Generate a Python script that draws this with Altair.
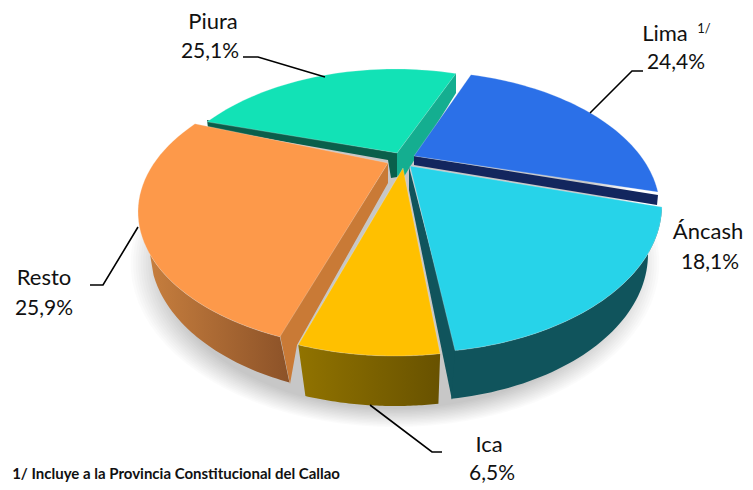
import math
import altair as alt
import pandas as pd

# Labels: name, share text, positions in picture coordinates
label_names = ["Piura", "Lima", "Áncash", "Resto", "Ica"]
label_shares = ["25,1%", "24,4%", "18,1%", "25,9%", "6,5%"]
name_x = [213, 665, 708, 44, 489]
name_y = [22, 34, 232, 278, 445]
share_x = [210, 676, 710, 44, 492]
share_y = [52, 63, 263, 309, 474]

# Slices: apex, ellipse centre, radii, start and end angle
top_fill = ["#12e2b6", "#2b70e8", "#27d3e9", "#fd994a", "#ffc000"]
apex = [(397, 153), (414, 156), (410, 166), (388, 163), (403, 168)]
centre = [(395, 209), (415, 210), (410, 205), (385, 212), (395, 207)]
radii = [(240, 140), (245, 139), (252, 148), (247, 138), (255, 149)]
sweep = [(308.5, 374.7), (13.2, 82.6), (90.8, 169.7), (205.2, 309.7), (169.8, 202.3)]

leaders = [
    [(243, 57), (258, 57), (325, 77)],
    [(590, 113), (632, 71), (643, 71)],
    [(138, 227), (103, 285), (90, 285)],
    [(370, 405), (432, 452), (442, 452)],
]


def rim(c, r, a0, a1, n=48):
    out = []
    for i in range(n + 1):
        t = math.radians(a0 + (a1 - a0) * i / n)
        out.append((c[0] + r[0] * math.sin(t), c[1] - r[1] * math.cos(t)))
    return out


def frame(points):
    pts = list(points) + [points[0]]
    return pd.DataFrame({"x": [p[0] for p in pts], "y": [p[1] for p in pts], "i": range(len(pts))})


X = alt.X("x:Q", scale=alt.Scale(domain=[8, 745], nice=False, zero=False), axis=None)
Y = alt.Y("y:Q", scale=alt.Scale(domain=[482, 8], nice=False, zero=False), axis=None)


def poly(points, fill, stroke=None, opacity=None):
    kw = {"fill": fill, "strokeWidth": 0}
    if stroke:
        kw.update(stroke=stroke, strokeWidth=0.7, strokeOpacity=0.35)
    else:
        kw.update(stroke=fill if isinstance(fill, str) else "#888888")
    if opacity is not None:
        kw.update(opacity=opacity, strokeWidth=0)
    return alt.Chart(frame(points)).mark_line(**kw).encode(x=X, y=Y, order="i:Q")


def grad(left, right):
    return alt.Gradient(gradient="linear", x1=0, x2=1, y1=0, y2=0,
                        stops=[alt.GradientStop(color=left, offset=0),
                               alt.GradientStop(color=right, offset=1)])


layers = []

# soft shadow
for k in range(14):
    layers.append(poly(rim((395, 263), (232 + 2.5 * k, 146 + 1.4 * k), 0, 360, 90), "#000000", opacity=0.016))

# Piura cut walls
layers.append(poly([(207, 120), (397, 153), (397, 177), (391, 178), (388, 160), (208, 128)], "#0a5f4b"))
layers.append(poly([(397, 153), (456, 73), (456, 93), (400, 183), (397, 175)], "#14ae90"))
# Lima wall
layers.append(poly([(414, 156), (658, 195), (657, 205), (414, 165)], "#13265e"))
# Resto walls
resto_outer = rim(centre[3], radii[3], 205.2, 252) + rim((385, 250), (235, 145), 260, 204)
layers.append(poly(resto_outer, grad("#c67e3e", "#8c5228")))
layers.append(poly([(388, 163), (280, 335), (290, 384), (297, 345), (388, 183)], "#c97a36"))
# Ancash walls
layers.append(poly([(409, 167), (457, 351), (452, 400), (409, 190)], "#10545c"))
anc_outer = rim(centre[2], radii[2], 90.8, 169.7) + rim((410, 254), (238, 147), 170, 90)
layers.append(poly(anc_outer, "#10545c"))
# Ica wall
ica_outer = rim(centre[4], radii[4], 169.8, 202.3) + rim((395, 256), (250, 150), 201, 170)
layers.append(poly(ica_outer, grad("#917300", "#685200")))

# top faces
for a, c, r, s, f in zip(apex, centre, radii, sweep, top_fill):
    layers.append(poly([a] + rim(c, r, s[0], s[1]), f, stroke="#f4f4f4"))

# leader lines
for seg in leaders:
    df = pd.DataFrame({"x": [p[0] for p in seg], "y": [p[1] for p in seg], "i": range(len(seg))})
    layers.append(alt.Chart(df).mark_line(color="black", strokeWidth=1.6).encode(x=X, y=Y, order="i:Q"))

# labels
name_df = pd.DataFrame({"x": name_x, "y": name_y, "t": label_names})
layers.append(alt.Chart(name_df).mark_text(font="Lato", fontSize=22, color="#111111", baseline="middle", align="center")
              .encode(x=X, y=Y, text="t:N"))
share_df = pd.DataFrame({"x": share_x, "y": share_y, "t": label_shares})
layers.append(alt.Chart(share_df).mark_text(font="Lato", fontSize=21, color="#111111", baseline="middle", align="center")
              .encode(x=X, y=Y, text="t:N"))
sup_df = pd.DataFrame({"x": [704], "y": [29], "t": ["1/"]})
layers.append(alt.Chart(sup_df).mark_text(font="Lato", fontSize=13, color="#111111", baseline="middle", align="center")
              .encode(x=X, y=Y, text="t:N"))
foot_df = pd.DataFrame({"x": [340], "y": [474], "t": ["1/ Incluye a la Provincia Constitucional del Callao"]})
layers.append(alt.Chart(foot_df).mark_text(font="Lato", fontSize=15, fontWeight="bold", color="#111111", baseline="middle", align="right")
              .encode(x=X, y=Y, text="t:N"))

chart = alt.layer(*layers).properties(width=737, height=474, padding=0, background="white").configure_view(stroke=None)
chart.save("out.html", embed_options={"renderer": "svg", "actions": False})
